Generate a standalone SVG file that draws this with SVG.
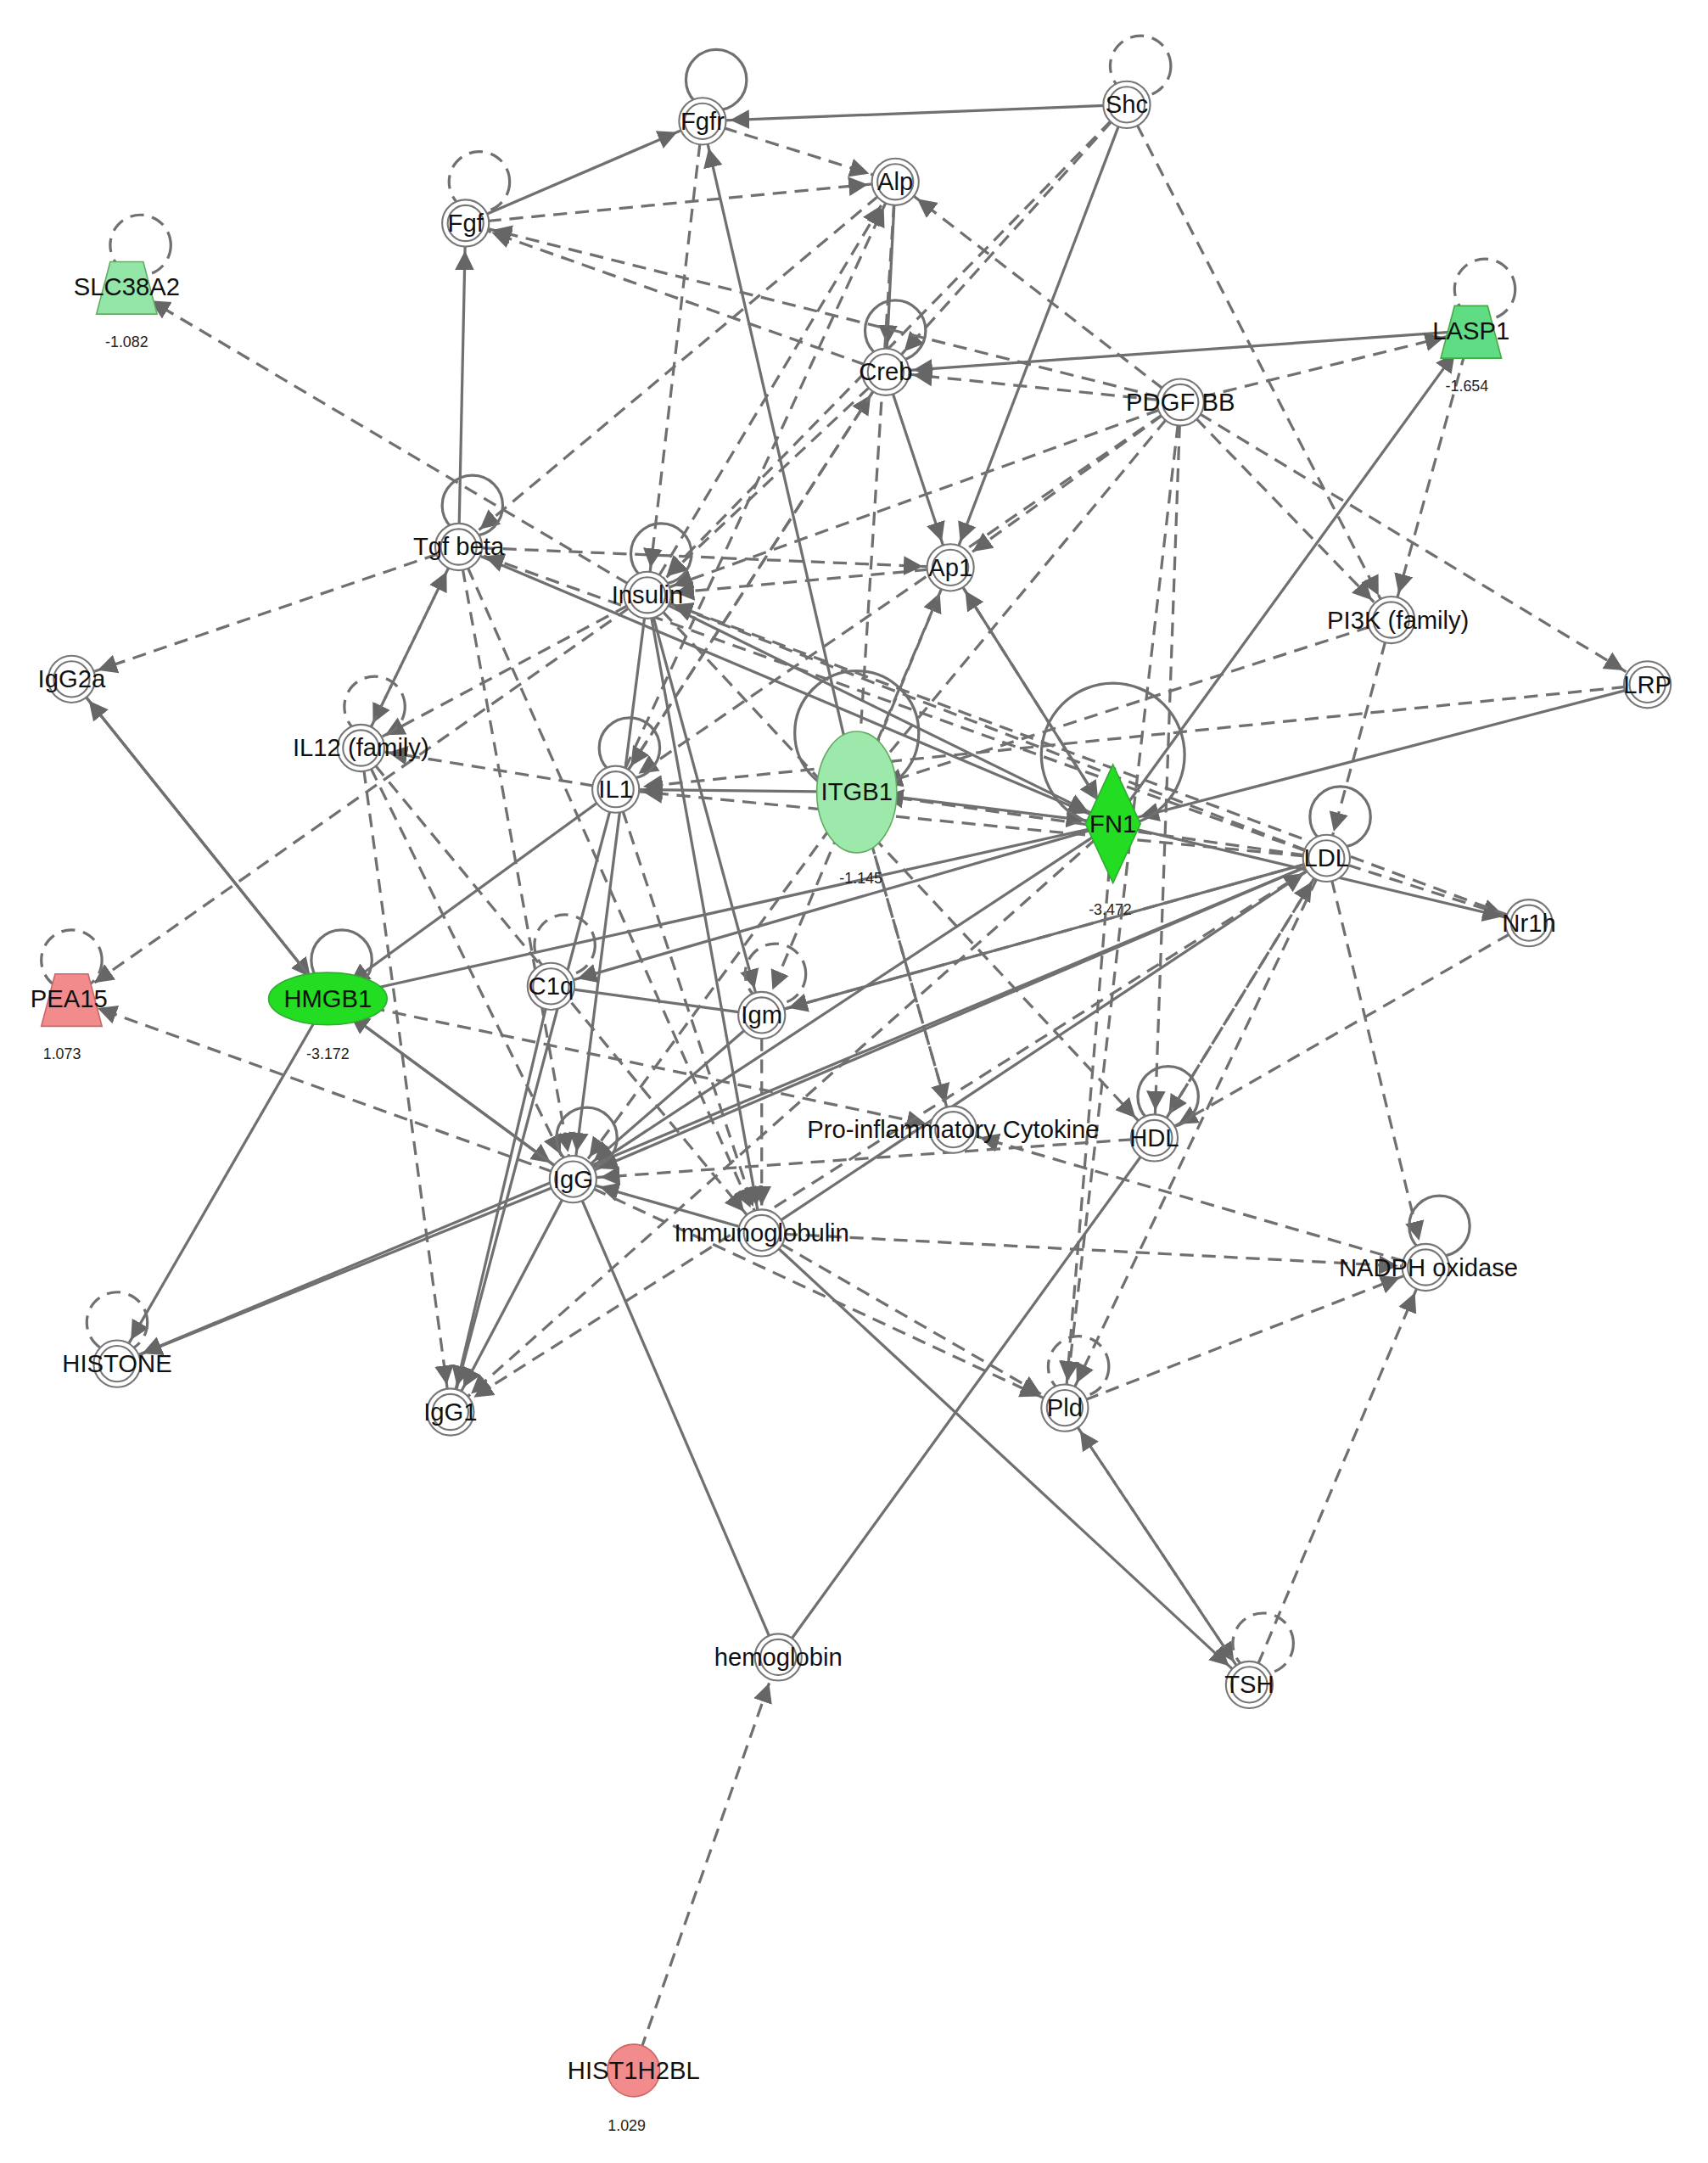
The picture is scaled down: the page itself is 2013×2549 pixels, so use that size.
<svg xmlns="http://www.w3.org/2000/svg" width="2013" height="2549" viewBox="0 0 2013 2549">
<style>
.s{stroke:#707070;stroke-width:2;fill:none;marker-end:url(#a)}
.d{stroke:#707070;stroke-width:2;fill:none;stroke-dasharray:10 6;marker-end:url(#a)}
.ls{stroke:#707070;stroke-width:2;fill:none}
.ld{stroke:#707070;stroke-width:2;fill:none;stroke-dasharray:10 6}
.n{fill:#fff;stroke:#777;stroke-width:1.3}
.t{font-family:"Liberation Sans",Arial,sans-serif;font-size:18px;fill:#111;text-anchor:middle;dominant-baseline:central}
.v{font-family:"Liberation Sans",Arial,sans-serif;font-size:11px;fill:#222;text-anchor:middle}
</style>
<defs>
<marker id="a" markerUnits="userSpaceOnUse" markerWidth="40" markerHeight="16" viewBox="0 0 40 16" refX="34" refY="8" orient="auto"><path d="M0,1 L14,8 L0,15 Z" fill="#666"/></marker>
</defs>
<rect width="2013" height="2549" fill="#fff"/>
<g transform="scale(1.6234)">
<g id="connectors">
<line class="s" x1="338" y1="162" x2="510" y2="88"/>
<line class="s" x1="818" y1="76" x2="510" y2="88"/>
<line class="s" x1="333" y1="397" x2="338" y2="162"/>
<line class="s" x1="622" y1="575" x2="510" y2="88"/>
<line class="s" x1="1068" y1="240" x2="643" y2="270"/>
<line class="s" x1="650" y1="132" x2="643" y2="270"/>
<line class="s" x1="643" y1="270" x2="690" y2="412"/>
<line class="s" x1="818" y1="76" x2="690" y2="412"/>
<line class="s" x1="690" y1="412" x2="808" y2="598"/>
<line class="s" x1="622" y1="575" x2="808" y2="598"/>
<line class="s" x1="622" y1="575" x2="447" y2="573"/>
<line class="s" x1="808" y1="598" x2="1068" y2="240"/>
<line class="s" x1="1196" y1="497" x2="808" y2="598"/>
<line class="s" x1="808" y1="598" x2="416" y2="856"/>
<line class="s" x1="52" y1="493" x2="238" y2="725"/>
<line class="s" x1="238" y1="725" x2="52" y2="493"/>
<line class="s" x1="447" y1="573" x2="238" y2="725"/>
<line class="s" x1="238" y1="725" x2="416" y2="856"/>
<line class="s" x1="416" y1="856" x2="238" y2="725"/>
<line class="ls" x1="400" y1="716" x2="553" y2="737"/>
<line class="s" x1="553" y1="737" x2="416" y2="856"/>
<line class="ls" x1="553" y1="737" x2="963" y2="623"/>
<line class="s" x1="416" y1="856" x2="85" y2="990"/>
<line class="s" x1="238" y1="725" x2="85" y2="990"/>
<line class="s" x1="963" y1="623" x2="85" y2="990"/>
<line class="s" x1="416" y1="856" x2="327" y2="1025"/>
<line class="s" x1="400" y1="716" x2="327" y2="1025"/>
<line class="ls" x1="416" y1="856" x2="565" y2="1203"/>
<line class="s" x1="553" y1="895" x2="907" y2="1223"/>
<line class="ls" x1="565" y1="1203" x2="838" y2="826"/>
<line class="ls" x1="238" y1="725" x2="808" y2="598"/>
<line class="s" x1="963" y1="623" x2="416" y2="856"/>
<line class="s" x1="553" y1="895" x2="963" y2="623"/>
<line class="s" x1="470" y1="432" x2="808" y2="598"/>
<line class="s" x1="333" y1="397" x2="808" y2="598"/>
<line class="s" x1="470" y1="432" x2="553" y2="737"/>
<line class="s" x1="447" y1="573" x2="327" y2="1025"/>
<line class="s" x1="470" y1="432" x2="416" y2="856"/>
<line class="s" x1="470" y1="432" x2="553" y2="895"/>
<line class="s" x1="808" y1="598" x2="400" y2="716"/>
<line class="s" x1="808" y1="598" x2="1110" y2="670"/>
<line class="s" x1="553" y1="895" x2="416" y2="856"/>
<line class="d" x1="338" y1="162" x2="650" y2="132"/>
<line class="d" x1="510" y1="88" x2="650" y2="132"/>
<line class="d" x1="857" y1="292" x2="650" y2="132"/>
<line class="d" x1="857" y1="292" x2="643" y2="270"/>
<line class="d" x1="857" y1="292" x2="1196" y2="497"/>
<line class="d" x1="857" y1="292" x2="1010" y2="450"/>
<line class="d" x1="857" y1="292" x2="470" y2="432"/>
<line class="d" x1="857" y1="292" x2="622" y2="575"/>
<line class="d" x1="857" y1="292" x2="447" y2="573"/>
<line class="d" x1="857" y1="292" x2="690" y2="412"/>
<line class="d" x1="857" y1="292" x2="838" y2="826"/>
<line class="d" x1="857" y1="292" x2="773" y2="1022"/>
<line class="d" x1="857" y1="292" x2="1068" y2="240"/>
<line class="d" x1="818" y1="76" x2="1010" y2="450"/>
<line class="d" x1="818" y1="76" x2="470" y2="432"/>
<line class="d" x1="818" y1="76" x2="643" y2="270"/>
<line class="d" x1="643" y1="270" x2="338" y2="162"/>
<line class="d" x1="470" y1="432" x2="92" y2="208"/>
<line class="d" x1="333" y1="397" x2="52" y2="493"/>
<line class="d" x1="333" y1="397" x2="262" y2="543"/>
<line class="d" x1="262" y1="543" x2="333" y2="397"/>
<line class="d" x1="470" y1="432" x2="262" y2="543"/>
<line class="d" x1="447" y1="573" x2="262" y2="543"/>
<line class="d" x1="963" y1="623" x2="470" y2="432"/>
<line class="d" x1="963" y1="623" x2="333" y2="397"/>
<line class="d" x1="963" y1="623" x2="447" y2="573"/>
<line class="d" x1="963" y1="623" x2="622" y2="575"/>
<line class="d" x1="470" y1="432" x2="52" y2="725"/>
<line class="d" x1="416" y1="856" x2="52" y2="725"/>
<line class="d" x1="238" y1="725" x2="692" y2="820"/>
<line class="d" x1="262" y1="543" x2="327" y2="1025"/>
<line class="d" x1="262" y1="543" x2="416" y2="856"/>
<line class="d" x1="262" y1="543" x2="553" y2="895"/>
<line class="d" x1="333" y1="397" x2="553" y2="895"/>
<line class="d" x1="333" y1="397" x2="416" y2="856"/>
<line class="d" x1="470" y1="432" x2="650" y2="132"/>
<line class="d" x1="690" y1="412" x2="470" y2="432"/>
<line class="d" x1="333" y1="397" x2="690" y2="412"/>
<line class="d" x1="643" y1="270" x2="470" y2="432"/>
<line class="d" x1="650" y1="132" x2="333" y2="397"/>
<line class="d" x1="447" y1="573" x2="650" y2="132"/>
<line class="d" x1="447" y1="573" x2="643" y2="270"/>
<line class="d" x1="622" y1="575" x2="690" y2="412"/>
<line class="d" x1="808" y1="598" x2="690" y2="412"/>
<line class="d" x1="692" y1="820" x2="622" y2="575"/>
<line class="d" x1="622" y1="575" x2="692" y2="820"/>
<line class="d" x1="808" y1="598" x2="773" y2="1022"/>
<line class="d" x1="963" y1="623" x2="838" y2="826"/>
<line class="d" x1="838" y1="826" x2="963" y2="623"/>
<line class="d" x1="963" y1="623" x2="773" y2="1022"/>
<line class="d" x1="963" y1="623" x2="1035" y2="920"/>
<line class="d" x1="963" y1="623" x2="1110" y2="670"/>
<line class="d" x1="1010" y1="450" x2="963" y2="623"/>
<line class="d" x1="1068" y1="240" x2="1010" y2="450"/>
<line class="d" x1="963" y1="623" x2="553" y2="737"/>
<line class="d" x1="963" y1="623" x2="327" y2="1025"/>
<line class="d" x1="1110" y1="670" x2="838" y2="826"/>
<line class="d" x1="1035" y1="920" x2="692" y2="820"/>
<line class="d" x1="553" y1="895" x2="1035" y2="920"/>
<line class="d" x1="773" y1="1022" x2="1035" y2="920"/>
<line class="d" x1="907" y1="1223" x2="1035" y2="920"/>
<line class="d" x1="773" y1="1022" x2="907" y2="1223"/>
<line class="d" x1="907" y1="1223" x2="773" y2="1022"/>
<line class="d" x1="553" y1="895" x2="773" y2="1022"/>
<line class="d" x1="416" y1="856" x2="773" y2="1022"/>
<line class="d" x1="838" y1="826" x2="416" y2="856"/>
<line class="d" x1="460" y1="1503" x2="565" y2="1203"/>
<line class="d" x1="447" y1="573" x2="553" y2="895"/>
<line class="d" x1="553" y1="737" x2="553" y2="895"/>
<line class="d" x1="470" y1="432" x2="838" y2="826"/>
<line class="d" x1="622" y1="575" x2="416" y2="856"/>
<line class="d" x1="690" y1="412" x2="553" y2="737"/>
<line class="d" x1="643" y1="270" x2="447" y2="573"/>
<line class="d" x1="650" y1="132" x2="622" y2="575"/>
<line class="d" x1="510" y1="88" x2="470" y2="432"/>
<line class="d" x1="1196" y1="497" x2="447" y2="573"/>
<line class="d" x1="1010" y1="450" x2="622" y2="575"/>
<line class="d" x1="1110" y1="670" x2="470" y2="432"/>
<line class="d" x1="808" y1="598" x2="327" y2="1025"/>
<line class="d" x1="857" y1="292" x2="338" y2="162"/>
</g>
<g id="loops">
<circle class="ls" cx="520" cy="58" r="22"/>
<circle class="ld" cx="828" cy="48" r="22"/>
<circle class="ld" cx="348" cy="132" r="22"/>
<circle class="ld" cx="102" cy="178" r="22"/>
<circle class="ls" cx="650" cy="240" r="22"/>
<circle class="ld" cx="1078" cy="210" r="22"/>
<circle class="ls" cx="343" cy="367" r="22"/>
<circle class="ls" cx="480" cy="402" r="22"/>
<circle class="ld" cx="272" cy="513" r="22"/>
<circle class="ls" cx="457" cy="543" r="22"/>
<circle class="ls" cx="622" cy="532" r="45"/>
<circle class="ls" cx="808" cy="548" r="52"/>
<circle class="ls" cx="973" cy="593" r="22"/>
<circle class="ld" cx="52" cy="697" r="22"/>
<circle class="ls" cx="248" cy="697" r="22"/>
<circle class="ld" cx="410" cy="686" r="22"/>
<circle class="ld" cx="563" cy="707" r="22"/>
<circle class="ls" cx="848" cy="796" r="22"/>
<circle class="ls" cx="426" cy="826" r="22"/>
<circle class="ls" cx="1045" cy="890" r="22"/>
<circle class="ld" cx="85" cy="960" r="22"/>
<circle class="ld" cx="783" cy="992" r="22"/>
<circle class="ld" cx="917" cy="1193" r="22"/>
</g>
<g id="Fgfr"><circle class="n" cx="510" cy="88" r="17"/><circle class="n" cx="510" cy="88" r="13"/><text class="t" x="510" y="88">Fgfr</text></g>
<g id="Shc"><circle class="n" cx="818" cy="76" r="17"/><circle class="n" cx="818" cy="76" r="13"/><text class="t" x="818" y="76">Shc</text></g>
<g id="Alp"><circle class="n" cx="650" cy="132" r="17"/><circle class="n" cx="650" cy="132" r="13"/><text class="t" x="650" y="132">Alp</text></g>
<g id="Fgf"><circle class="n" cx="338" cy="162" r="17"/><circle class="n" cx="338" cy="162" r="13"/><text class="t" x="338" y="162">Fgf</text></g>
<g id="SLC38A2"><path d="M80,190 L104,190 L114,228 L70,228 Z" fill="#93e6a8" stroke="#6a6" stroke-width="1"/><text class="t" x="92" y="208">SLC38A2</text><text class="v" x="92" y="252">-1.082</text></g>
<g id="Creb"><circle class="n" cx="643" cy="270" r="17"/><circle class="n" cx="643" cy="270" r="13"/><text class="t" x="643" y="270">Creb</text></g>
<g id="PDGFBB"><circle class="n" cx="857" cy="292" r="17"/><circle class="n" cx="857" cy="292" r="13"/><text class="t" x="857" y="292">PDGF BB</text></g>
<g id="LASP1"><path d="M1056,222 L1080,222 L1090,260 L1046,260 Z" fill="#5fdc84" stroke="#4a4" stroke-width="1"/><text class="t" x="1068" y="240">LASP1</text><text class="v" x="1065" y="284">-1.654</text></g>
<g id="Tgfbeta"><circle class="n" cx="333" cy="397" r="17"/><circle class="n" cx="333" cy="397" r="13"/><text class="t" x="333" y="397">Tgf beta</text></g>
<g id="Insulin"><circle class="n" cx="470" cy="432" r="17"/><circle class="n" cx="470" cy="432" r="13"/><text class="t" x="470" y="432">Insulin</text></g>
<g id="Ap1"><circle class="n" cx="690" cy="412" r="17"/><circle class="n" cx="690" cy="412" r="13"/><text class="t" x="690" y="412">Ap1</text></g>
<g id="PI3K"><circle class="n" cx="1010" cy="450" r="17"/><circle class="n" cx="1010" cy="450" r="13"/><text class="t" x="1015" y="450">PI3K (family)</text></g>
<g id="LRP"><circle class="n" cx="1196" cy="497" r="17"/><circle class="n" cx="1196" cy="497" r="13"/><text class="t" x="1196" y="497">LRP</text></g>
<g id="IgG2a"><circle class="n" cx="52" cy="493" r="17"/><circle class="n" cx="52" cy="493" r="13"/><text class="t" x="52" y="493">IgG2a</text></g>
<g id="IL12"><circle class="n" cx="262" cy="543" r="17"/><circle class="n" cx="262" cy="543" r="13"/><text class="t" x="262" y="543">IL12 (family)</text></g>
<g id="IL1"><circle class="n" cx="447" cy="573" r="17"/><circle class="n" cx="447" cy="573" r="13"/><text class="t" x="447" y="573">IL1</text></g>
<g id="ITGB1"><ellipse cx="622" cy="575" rx="29" ry="44" fill="#9de9ac" stroke="#6a6" stroke-width="1"/><text class="t" x="622" y="575">ITGB1</text><text class="v" x="625" y="641">-1.145</text></g>
<g id="FN1"><path d="M808,555 L828,598 L808,641 L788,598 Z" fill="#22dd22" stroke="#3a3" stroke-width="1"/><text class="t" x="808" y="598">FN1</text><text class="v" x="806" y="664">-3.472</text></g>
<g id="LDL"><circle class="n" cx="963" cy="623" r="17"/><circle class="n" cx="963" cy="623" r="13"/><text class="t" x="963" y="623">LDL</text></g>
<g id="Nr1h"><circle class="n" cx="1110" cy="670" r="17"/><circle class="n" cx="1110" cy="670" r="13"/><text class="t" x="1110" y="670">Nr1h</text></g>
<g id="PEA15"><path d="M40,707 L64,707 L74,745 L30,745 Z" fill="#f28b8b" stroke="#c66" stroke-width="1"/><text class="t" x="50" y="725">PEA15</text><text class="v" x="45" y="769">1.073</text></g>
<g id="HMGB1"><ellipse cx="238" cy="725" rx="43" ry="19" fill="#22dd22" stroke="#3a3" stroke-width="1"/><text class="t" x="238" y="725">HMGB1</text><text class="v" x="238" y="769">-3.172</text></g>
<g id="C1q"><circle class="n" cx="400" cy="716" r="17"/><circle class="n" cx="400" cy="716" r="13"/><text class="t" x="400" y="716">C1q</text></g>
<g id="Igm"><circle class="n" cx="553" cy="737" r="17"/><circle class="n" cx="553" cy="737" r="13"/><text class="t" x="553" y="737">Igm</text></g>
<g id="ProInf"><circle class="n" cx="692" cy="820" r="17"/><circle class="n" cx="692" cy="820" r="13"/><text class="t" x="692" y="820">Pro-inflammatory Cytokine</text></g>
<g id="HDL"><circle class="n" cx="838" cy="826" r="17"/><circle class="n" cx="838" cy="826" r="13"/><text class="t" x="838" y="826">HDL</text></g>
<g id="IgG"><circle class="n" cx="416" cy="856" r="17"/><circle class="n" cx="416" cy="856" r="13"/><text class="t" x="416" y="856">IgG</text></g>
<g id="Immunoglobulin"><circle class="n" cx="553" cy="895" r="17"/><circle class="n" cx="553" cy="895" r="13"/><text class="t" x="553" y="895">Immunoglobulin</text></g>
<g id="NADPH"><circle class="n" cx="1035" cy="920" r="17"/><circle class="n" cx="1035" cy="920" r="13"/><text class="t" x="1037" y="920">NADPH oxidase</text></g>
<g id="HISTONE"><circle class="n" cx="85" cy="990" r="17"/><circle class="n" cx="85" cy="990" r="13"/><text class="t" x="85" y="990">HISTONE</text></g>
<g id="IgG1"><circle class="n" cx="327" cy="1025" r="17"/><circle class="n" cx="327" cy="1025" r="13"/><text class="t" x="327" y="1025">IgG1</text></g>
<g id="Pld"><circle class="n" cx="773" cy="1022" r="17"/><circle class="n" cx="773" cy="1022" r="13"/><text class="t" x="773" y="1022">Pld</text></g>
<g id="hemoglobin"><circle class="n" cx="565" cy="1203" r="17"/><circle class="n" cx="565" cy="1203" r="13"/><text class="t" x="565" y="1203">hemoglobin</text></g>
<g id="TSH"><circle class="n" cx="907" cy="1223" r="17"/><circle class="n" cx="907" cy="1223" r="13"/><text class="t" x="907" y="1223">TSH</text></g>
<g id="HIST1H2BL"><circle cx="460" cy="1503" r="19" fill="#f28b8b" stroke="#c66" stroke-width="1"/><text class="t" x="460" y="1503">HIST1H2BL</text><text class="v" x="455" y="1547">1.029</text></g>
</g>
</svg>
